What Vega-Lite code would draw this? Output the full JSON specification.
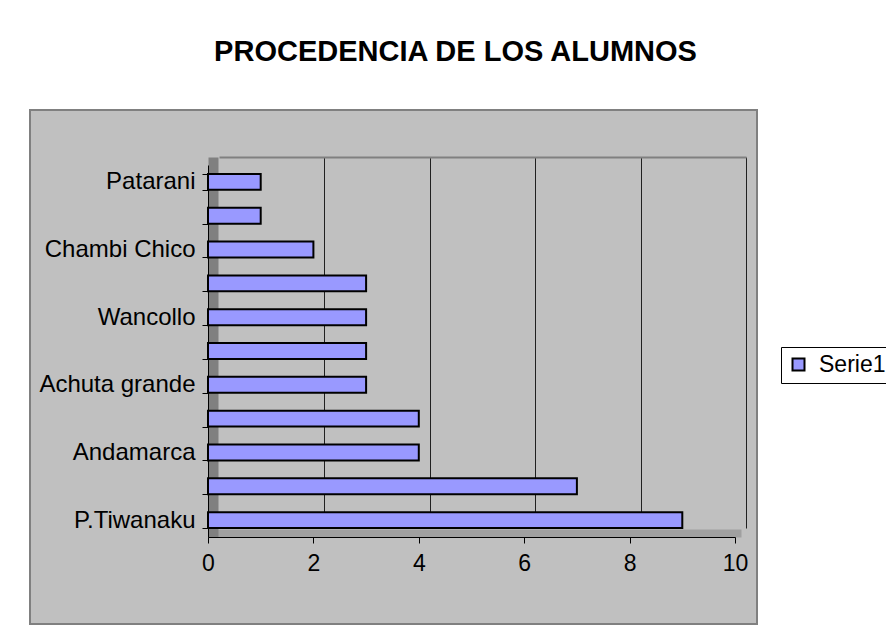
{
  "$schema": "https://vega.github.io/schema/vega-lite/v6.json",
  "autosize": "none",
  "width": 727,
  "height": 514,
  "padding": {"left": 30, "top": 110, "right": 129, "bottom": 11},
  "background": "white",
  "title": {
    "text": "PROCEDENCIA DE LOS ALUMNOS",
    "font": "Liberation Sans",
    "fontSize": 29,
    "fontWeight": "bold",
    "color": "black",
    "anchor": "middle",
    "dx": 62,
    "offset": 31
  },
  "data": {
    "values": [
      {"lugar": "Patarani", "alumnos": 1, "serie": "Serie1"},
      {"lugar": " ", "alumnos": 1, "serie": "Serie1"},
      {"lugar": "Chambi Chico", "alumnos": 2, "serie": "Serie1"},
      {"lugar": "  ", "alumnos": 3, "serie": "Serie1"},
      {"lugar": "Wancollo", "alumnos": 3, "serie": "Serie1"},
      {"lugar": "   ", "alumnos": 3, "serie": "Serie1"},
      {"lugar": "Achuta grande", "alumnos": 3, "serie": "Serie1"},
      {"lugar": "    ", "alumnos": 4, "serie": "Serie1"},
      {"lugar": "Andamarca", "alumnos": 4, "serie": "Serie1"},
      {"lugar": "     ", "alumnos": 7, "serie": "Serie1"},
      {"lugar": "P.Tiwanaku", "alumnos": 9, "serie": "Serie1"}
    ]
  },
  "layer": [
    {
      "mark": {"type": "bar", "opacity": 0},
      "encoding": {
        "y": {
          "field": "lugar",
          "type": "nominal",
          "sort": null,
          "scale": {"range": [96, 467]},
          "axis": null
        },
        "x": {
          "field": "alumnos",
          "type": "quantitative",
          "scale": {"domain": [0, 10], "range": [189, 716], "nice": false, "zero": true},
          "axis": {
            "title": null,
            "orient": "bottom",
            "values": [2, 4, 6, 8, 10],
            "labels": false,
            "ticks": false,
            "domain": false,
            "grid": true,
            "gridColor": "#202020",
            "gridWidth": 1
          }
        }
      }
    },
    {
      "mark": {"type": "bar", "opacity": 0},
      "encoding": {
        "y": {
          "field": "lugar",
          "type": "nominal",
          "sort": null,
          "scale": {"range": [47, 427]},
          "axis": {
            "title": null,
            "orient": "left",
            "offset": -183,
            "labels": false,
            "ticks": false,
            "grid": false,
            "domain": true,
            "domainColor": "#808080",
            "domainWidth": 10
          }
        },
        "x": {
          "field": "alumnos",
          "type": "quantitative",
          "scale": {"domain": [0, 10], "range": [189, 716], "nice": false, "zero": true},
          "axis": {
            "title": null,
            "orient": "top",
            "offset": -47,
            "labels": false,
            "ticks": false,
            "grid": false,
            "domain": true,
            "domainColor": "#808080",
            "domainWidth": 2
          }
        }
      }
    },
    {
      "mark": {"type": "bar", "opacity": 0},
      "encoding": {
        "y": {
          "field": "lugar",
          "type": "nominal",
          "sort": null,
          "axis": null
        },
        "x": {
          "field": "alumnos",
          "type": "quantitative",
          "scale": {"domain": [0, 10], "range": [183, 711], "nice": false, "zero": true},
          "axis": {
            "title": null,
            "orient": "bottom",
            "offset": -91,
            "labels": false,
            "ticks": false,
            "grid": false,
            "domain": true,
            "domainColor": "#A0A0A0",
            "domainWidth": 8
          }
        }
      }
    },
    {
      "mark": {"type": "bar", "stroke": "black", "strokeWidth": 2},
      "encoding": {
        "y": {
          "field": "lugar",
          "type": "nominal",
          "sort": null,
          "scale": {"range": [55, 427], "paddingInner": 0.53, "paddingOuter": 0.265},
          "axis": {
            "title": null,
            "orient": "left",
            "offset": -178,
            "tickBand": "extent",
            "tickSize": 6,
            "tickColor": "black",
            "domainColor": "black",
            "labelFont": "Liberation Sans",
            "labelFontSize": 24,
            "labelColor": "black",
            "labelPadding": 7,
            "grid": false,
            "zindex": 1
          }
        },
        "x": {
          "field": "alumnos",
          "type": "quantitative",
          "scale": {"domain": [0, 10], "range": [178, 705], "nice": false, "zero": true},
          "axis": {
            "title": null,
            "orient": "bottom",
            "offset": -87,
            "values": [0, 2, 4, 6, 8, 10],
            "tickSize": 6,
            "tickColor": "black",
            "domainColor": "black",
            "labelFont": "Liberation Sans",
            "labelFontSize": 23,
            "labelColor": "black",
            "labelPadding": 9,
            "labelFlush": false,
            "grid": false,
            "zindex": 1
          }
        },
        "fill": {
          "field": "serie",
          "type": "nominal",
          "scale": {"range": ["#9999FF"]},
          "legend": {
            "title": null,
            "orient": "none",
            "legendX": 751,
            "legendY": 237,
            "symbolType": "square",
            "symbolSize": 144,
            "symbolStrokeColor": "black",
            "symbolStrokeWidth": 2,
            "labelFont": "Liberation Sans",
            "labelFontSize": 23,
            "labelColor": "black",
            "labelOffset": 9,
            "strokeColor": "black",
            "padding": 6,
            "fillColor": "white"
          }
        }
      }
    }
  ],
  "resolve": {
    "scale": {"x": "independent", "y": "independent"},
    "axis": {"x": "independent", "y": "independent"}
  },
  "config": {
    "view": {"fill": "#C0C0C0", "stroke": "#808080", "strokeWidth": 2}
  }
}
